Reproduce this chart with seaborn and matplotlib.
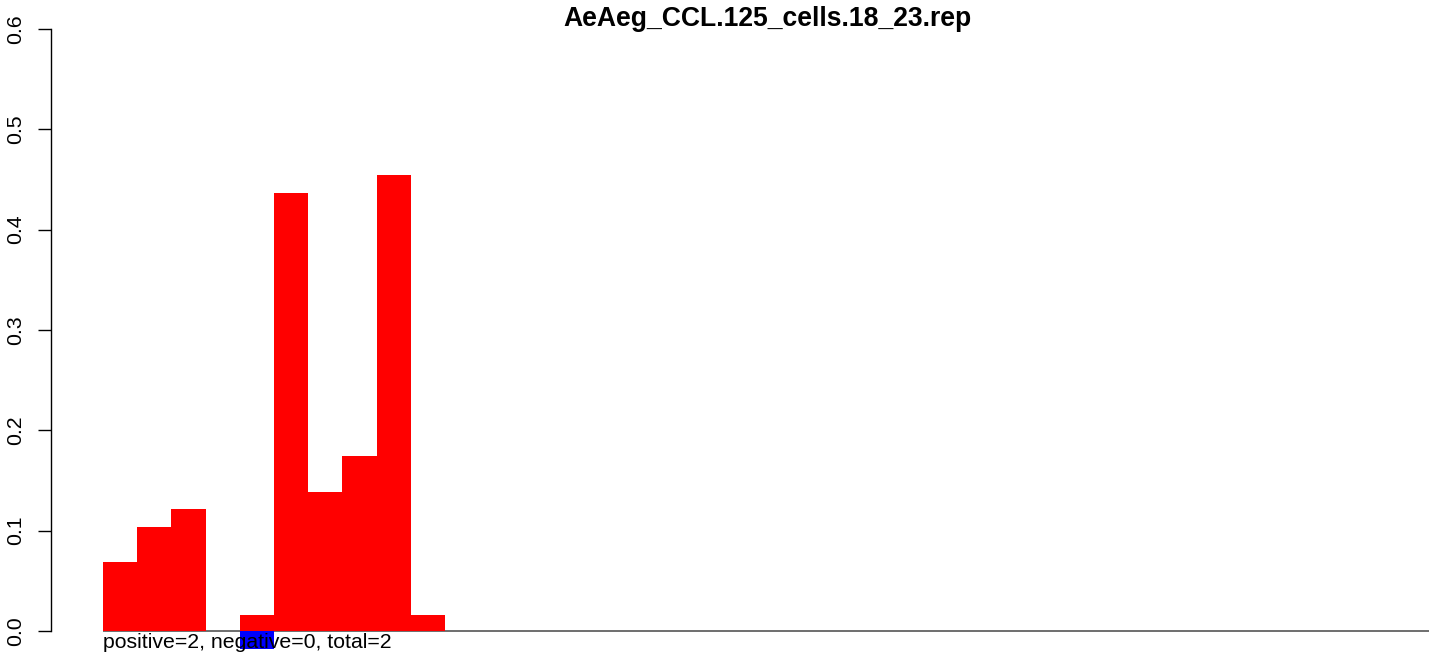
import numpy as np
import pandas as pd
import matplotlib
matplotlib.use("Agg")
import matplotlib.pyplot as plt
import seaborn as sns

sns.set_theme(style="white")
plt.rcParams['font.family'] = ['Liberation Sans', 'DejaVu Sans']

# ----------------------------------------
# Data
# ----------------------------------------
positions = [1, 2, 3, 4, 5, 6, 7, 8, 9, 10]
positive_vals = [0.069, 0.104, 0.122, 0.0, 0.016, 0.437, 0.139, 0.174, 0.454, 0.016]
negative_vals = [0.0, 0.0, 0.0, 0.0, -0.018, 0.0, 0.0, 0.0, 0.0, 0.0]
y_ticks = [0.0, 0.1, 0.2, 0.3, 0.4, 0.5, 0.6]
title = "AeAeg_CCL.125_cells.18_23.rep"
note = "positive=2, negative=0, total=2"

df = pd.DataFrame({"pos": positions, "positive": positive_vals, "negative": negative_vals})

# ----------------------------------------
# Figure
# ----------------------------------------
W, H = 1429, 655
fig = plt.figure(figsize=(W / 100, H / 100), dpi=100)
ax = fig.add_axes([103 / W, 0, 1326 / W, (H - 29) / H])

ax.axhline(0, color="#555555", lw=1.2, zorder=0)

sns.barplot(data=df, x="pos", y="positive", order=positions, color="#FF0000",
            saturation=1, width=1, errorbar=None, linewidth=0, ax=ax)
sns.barplot(data=df, x="pos", y="negative", order=positions, color="#0000FF",
            saturation=1, width=1, errorbar=None, linewidth=0, ax=ax)

ax.set_xlim(-0.5, -0.5 + 1326 / 34.2)
ax.set_ylim(-0.0239, 0.6)
ax.set_xticks([])
ax.set_xlabel("")
ax.set_ylabel("")

for s in ["top", "right", "bottom"]:
    ax.spines[s].set_visible(False)
ax.spines["left"].set_position(("outward", 52 * 0.72))
ax.spines["left"].set_bounds(0, 0.6)
ax.spines["left"].set_color("black")
ax.spines["left"].set_linewidth(1)

ax.set_yticks(y_ticks)
ax.set_yticklabels([f"{v:.1f}" for v in y_ticks], rotation=90, va="center",
                   fontsize=15.3, color="black")
ax.tick_params(axis="y", direction="out", length=9.4, width=1, color="black",
               pad=9.4, left=True)

ax.text(-0.5, -0.0169, note, ha="left", va="baseline", fontsize=15.3,
        color="black", zorder=5)

fig.text(767 / W, 1 - 26 / H, title, ha="center", va="baseline",
         fontsize=19.1, fontweight="bold", color="black")

fig.savefig("out.png", dpi=100)
